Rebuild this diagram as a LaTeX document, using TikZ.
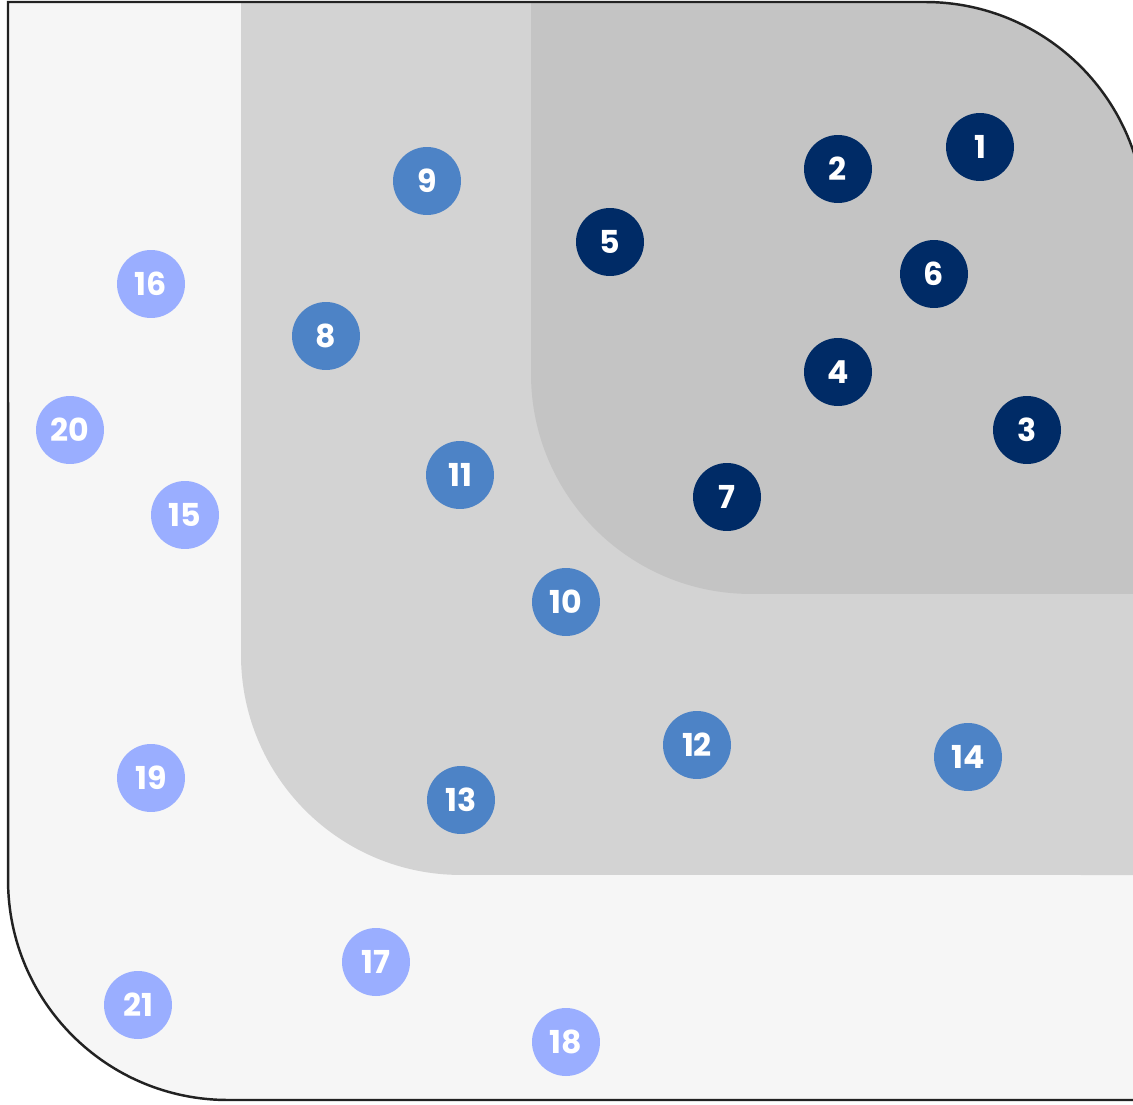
\documentclass[tikz,border=0pt]{standalone}
\usepackage{fontspec}
\setmainfont{Poppins}
\usepackage{tikz}
\usetikzlibrary{positioning}
\usepackage{xcolor}
\definecolor{ringouter}{HTML}{F6F6F6}
\definecolor{ringmid}{HTML}{D3D3D3}
\definecolor{ringinner}{HTML}{C4C4C4}
\definecolor{dotnavy}{HTML}{002B66}
\definecolor{dotblue}{HTML}{4D83C6}
\definecolor{dotlight}{HTML}{9AAEFF}
\definecolor{edgeline}{HTML}{222222}

\tikzset{
  dot/.style={circle, minimum size=1.36cm, inner sep=0pt, text=white,
              font=\fontsize{18}{18}\selectfont\bfseries},
  dotcore/.style={dot, fill=dotnavy},
  dotmid/.style={dot, fill=dotblue},
  dotrim/.style={dot, fill=dotlight}
}

\begin{document}
\begin{tikzpicture}[x=0.02cm, y=-0.02cm]
      \useasboundingbox (0,0) rectangle (1133,1105);
      % bands, clipped to the outer frame
      \begin{scope}
        \clip (8,2) -- (925,2) arc[start angle=90, end angle=0, radius=4.4cm]
          -- (1145,1100) -- (228,1100) arc[start angle=270, end angle=180, radius=4.4cm]
          -- cycle;
        \fill[ringouter] (0,0) rectangle (1200,1200);
        \fill[ringmid] (241,0) -- (241,655) arc[start angle=180, end angle=270, radius=4.4cm]
          -- (1200,875) -- (1200,0) -- cycle;
        \fill[ringinner] (531,0) -- (531,374) arc[start angle=180, end angle=270, radius=4.4cm]
          -- (1200,594) -- (1200,0) -- cycle;
      \end{scope}
      \draw[edgeline, line width=1.4pt]
        (8,2) -- (925,2) arc[start angle=90, end angle=0, radius=4.4cm]
        -- (1145,1100) -- (228,1100) arc[start angle=270, end angle=180, radius=4.4cm]
        -- cycle;

      % inner ring
      \foreach \i/\x/\y in {1/980/147, 2/838/169, 3/1027/430, 4/838/372,
                            5/610/242, 6/934/274, 7/727/497}
        \node[dotcore] (n\i) at (\x,\y) {\i};
      % middle ring
      \foreach \i/\x/\y in {8/326/336, 9/427/181, 10/566/602, 11/460/475,
                            12/697/745, 13/461/800, 14/968/757}
        \node[dotmid] (n\i) at (\x,\y) {\i};
      % outer ring
      \foreach \i/\x/\y in {15/185/515, 16/151/284, 17/376/962, 18/566/1042,
                            19/151/778, 20/70/430, 21/138/1005}
        \node[dotrim] (n\i) at (\x,\y) {\i};
    \end{tikzpicture}
\end{document}
